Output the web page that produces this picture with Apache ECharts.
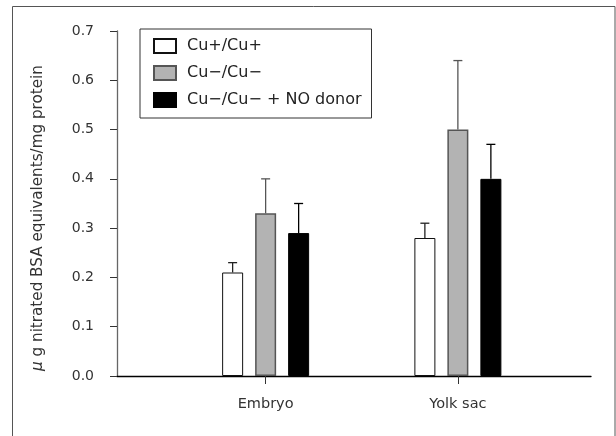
<!DOCTYPE html>
<html>
<head>
<meta charset="utf-8">
<script src="https://cdn.jsdelivr.net/npm/echarts@6/dist/echarts.min.js"></script>
<style>
    html, body { margin: 0; padding: 0; background: #fff; }
    #chart { width: 616px; height: 436px; }
</style>
</head>
<body>
<div id="chart"></div>
<script>
    /* nitrated BSA - bar chart with error bars */

    var categories = ['Embryo', 'Yolk sac'];
    var seriesNames = ['Cu+/Cu+', 'Cu\u2212/Cu\u2212', 'Cu\u2212/Cu\u2212 + NO donor'];
    var cuPlus = [0.21, 0.28];          // Cu+/Cu+
    var cuMinus = [0.33, 0.50];         // Cu-/Cu-
    var cuMinusNO = [0.29, 0.40];       // Cu-/Cu- + NO donor
    var cuPlusErr = [0.02, 0.03];
    var cuMinusErr = [0.07, 0.14];
    var cuMinusNOErr = [0.06, 0.07];
    var yTicks = [0, 0.1, 0.2, 0.3, 0.4, 0.5, 0.6, 0.7];
    var yTitle = 'g nitrated BSA equivalents/mg protein';

    var FONT = 'DejaVu Sans';
    var BAR_W = 21;
    var BAR_STEP = 33;   // bar center distance in px

    var fills = ['#ffffff', '#b3b3b3', '#000000'];
    var borders = ['#111111', '#555555', '#000000'];
    var errColors = ['#222222', '#555555', '#000000'];

    function buildErrData() {
        var values = [cuPlus, cuMinus, cuMinusNO];
        var errs = [cuPlusErr, cuMinusErr, cuMinusNOErr];
        var out = [];
        for (var s = 0; s < values.length; s++) {
            for (var i = 0; i < categories.length; i++) {
                out.push([i, values[s][i], errs[s][i], s]);
            }
        }
        return out;
    }

    function renderErr(params, api) {
        var s = api.value(3);
        var p0 = api.coord([api.value(0), api.value(1)]);
        var p1 = api.coord([api.value(0), api.value(1) + api.value(2)]);
        var x = p0[0] + (s - 1) * BAR_STEP;
        var style = { stroke: errColors[s], lineWidth: 1.3 };
        return {
            type: 'group',
            children: [
                { type: 'line', shape: { x1: x, y1: p0[1], x2: x, y2: p1[1] }, style: style },
                { type: 'line', shape: { x1: x - 4.5, y1: p1[1], x2: x + 4.5, y2: p1[1] }, style: style }
            ]
        };
    }

    var chart = echarts.init(document.getElementById('chart'));

    var option = {
        animation: false,
        textStyle: { fontFamily: FONT },
        graphic: [{
            type: 'rect',
            shape: { x: 12.5, y: 6.5, width: 602.5, height: 440 },
            style: { fill: 'none', stroke: '#555', lineWidth: 1 },
            silent: true
        }, {
            // y axis title
            type: 'text',
            x: 38,
            y: 218,
            rotation: Math.PI / 2,
            style: {
                text: '{i|\u03bc} ' + yTitle,
                align: 'center',
                verticalAlign: 'middle',
                fontFamily: FONT,
                fontSize: 15.2,
                fill: '#333',
                rich: { i: { fontFamily: FONT, fontSize: 15.2, fontStyle: 'italic', fill: '#333' } }
            },
            silent: true
        }],
        legend: {
            orient: 'vertical',
            left: 140,
            top: 29,
            data: seriesNames,
            icon: 'rect',
            itemWidth: 22,
            itemHeight: 14,
            itemGap: 11,
            padding: [9, 10, 10, 13],
            borderColor: '#333',
            borderWidth: 1,
            textStyle: { fontFamily: FONT, fontSize: 16, color: '#222', padding: [0, 0, 0, 6] }
        },
        grid: [
            { left: 117, right: 25, top: 31, bottom: 60 },
            { left: 169.5, right: 62, top: 31, bottom: 60 }
        ],
        xAxis: [{
            gridIndex: 0,
            type: 'value',
            min: 0,
            max: 1,
            axisLine: { show: true, lineStyle: { color: '#000', width: 1.3 } },
            axisTick: { show: false },
            axisLabel: { show: false },
            splitLine: { show: false }
        }, {
            gridIndex: 1,
            type: 'category',
            data: categories,
            axisLine: { show: false },
            axisTick: { show: true, alignWithLabel: true, length: 8, lineStyle: { color: '#333' } },
            axisLabel: { fontFamily: FONT, fontSize: 14.5, color: '#333', margin: 21 },
            splitLine: { show: false }
        }],
        yAxis: [{
            gridIndex: 0,
            type: 'value',
            min: 0,
            max: 0.7,
            interval: 0.1,
            axisLine: { show: true, lineStyle: { color: '#666', width: 1.3 } },
            axisTick: { show: true, length: 7, lineStyle: { color: '#333' } },
            axisLabel: {
                fontFamily: FONT,
                fontSize: 14,
                color: '#333',
                margin: 23,
                formatter: function (v) {
                    return yTicks.indexOf(Math.round(v * 10) / 10) >= 0 ? v.toFixed(1) : '';
                }
            },
            splitLine: { show: false }
        }, {
            gridIndex: 1,
            type: 'value',
            min: 0,
            max: 0.7,
            interval: 0.1,
            show: false
        }],
        series: (function () {
            var list = [];
            var values = [cuPlus, cuMinus, cuMinusNO];
            for (var s = 0; s < values.length; s++) {
                list.push({
                    name: seriesNames[s],
                    type: 'bar',
                    xAxisIndex: 1,
                    yAxisIndex: 1,
                    barWidth: BAR_W,
                    barGap: ((BAR_STEP - BAR_W) / BAR_W * 100) + '%',
                    itemStyle: {
                        color: fills[s],
                        borderColor: borders[s],
                        borderWidth: s == 1 ? 1.5 : 1
                    },
                    data: values[s]
                });
            }
            list.push({
                name: 'err',
                type: 'custom',
                xAxisIndex: 1,
                yAxisIndex: 1,
                renderItem: renderErr,
                data: buildErrData(),
                z: 3
            });
            return list;
        })()
    };

    chart.setOption(option);
</script>
</body>
</html>
